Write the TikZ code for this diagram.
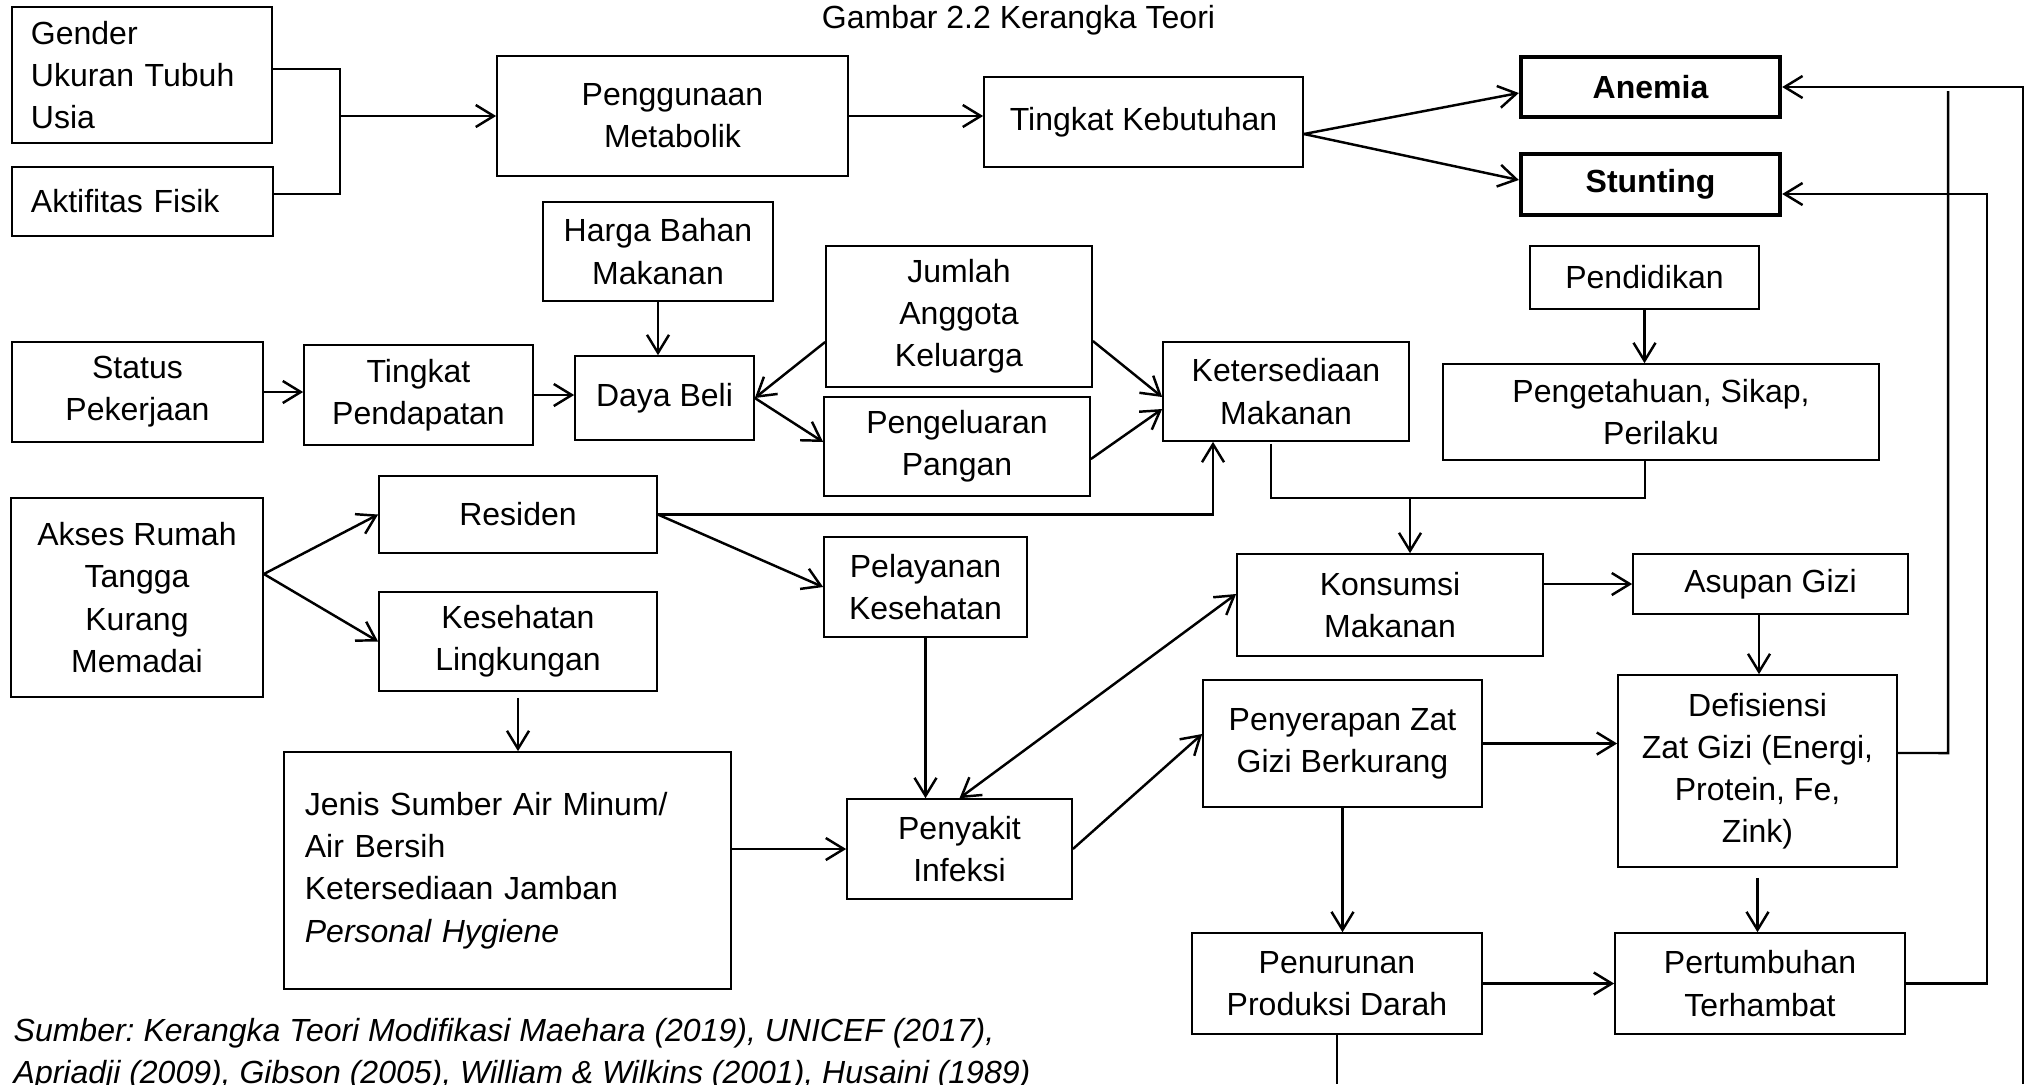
\documentclass[tikz,border=0pt]{standalone}
\usepackage{fontspec}
\setmainfont{Liberation Sans}
\usetikzlibrary{arrows.meta}
\frenchspacing
\begin{document}
\begin{tikzpicture}[x=0.01cm,y=-0.01cm,
  box/.style={draw, line width=0.45pt, inner sep=0pt, align=center, font=\fontsize{9.1}{12}\selectfont},
  bbox/.style={box, line width=1.2pt, font=\fontsize{9.1}{12}\selectfont\bfseries},
  lbox/.style={box, align=left},
  lbl/.style={inner sep=0pt, font=\fontsize{9.1}{12}\selectfont},
  ln/.style={line width=0.7pt},
  arr/.style={ln, -{Straight Barb[length=0.18cm,width=0.22cm]}},
  darr/.style={ln, {Straight Barb[length=0.18cm,width=0.22cm]}-{Straight Barb[length=0.18cm,width=0.22cm]}},
  ]
\useasboundingbox[fill=white] (0,0) rectangle (2028,1084);

\node[lbl] (title) at (1018.5,20) {Gambar 2.2 Kerangka Teori};

\node[lbox, minimum width=2.60cm, minimum height=1.36cm, text width=2.22cm, inner xsep=0.19cm] (gender) at (142,75) {Gender\\Ukuran Tubuh\\Usia};
\node[lbox, minimum width=2.61cm, minimum height=0.69cm, text width=2.23cm, inner xsep=0.19cm] (aktif) at (142.5,201.5) {Aktifitas Fisik};
\node[box, minimum width=3.51cm, minimum height=1.20cm] (peng) at (672.5,116) {Penggunaan\\Metabolik};
\node[box, minimum width=3.19cm, minimum height=0.90cm] (tkeb) at (1143.5,122) {Tingkat Kebutuhan};
\node[bbox, minimum width=2.59cm, minimum height=0.60cm] (anemia) at (1650.5,87) {Anemia};
\node[bbox, minimum width=2.59cm, minimum height=0.61cm] (stunting) at (1650.5,184.5) {Stunting};
\node[box, minimum width=2.30cm, minimum height=0.99cm] (harga) at (658,251.5) {Harga Bahan\\Makanan};
\node[box, minimum width=2.51cm, minimum height=1.00cm] (status) at (137.5,392) {Status\\Pekerjaan};
\node[box, minimum width=2.29cm, minimum height=1.00cm] (tpend) at (418.5,395) {Tingkat\\Pendapatan};
\node[box, minimum width=1.79cm, minimum height=0.84cm] (daya) at (664.5,398) {Daya Beli};
\node[box, minimum width=2.66cm, minimum height=1.41cm] (jumlah) at (959,316.5) {Jumlah\\Anggota\\Keluarga};
\node[box, minimum width=2.66cm, minimum height=0.99cm] (pengel) at (957,446.5) {Pengeluaran\\Pangan};
\node[box, minimum width=2.46cm, minimum height=0.99cm] (keters) at (1286,391.5) {Ketersediaan\\Makanan};
\node[box, minimum width=2.29cm, minimum height=0.63cm] (pendid) at (1644.5,277.5) {Pendidikan};
\node[box, minimum width=4.36cm, minimum height=0.96cm] (pengtah) at (1661,412) {Pengetahuan, Sikap,\\Perilaku};
\node[box, minimum width=2.52cm, minimum height=1.99cm] (akses) at (137,597.5) {Akses Rumah\\Tangga\\Kurang\\Memadai};
\node[box, minimum width=2.78cm, minimum height=0.77cm] (residen) at (518,514.5) {Residen};
\node[box, minimum width=2.78cm, minimum height=0.99cm] (kesling) at (518,641.5) {Kesehatan\\Lingkungan};
\node[lbox, minimum width=4.47cm, minimum height=2.37cm, text width=4.05cm, inner xsep=0.21cm] (jenis) at (507.5,870.5) {Jenis Sumber Air Minum/\\Air Bersih\\Ketersediaan Jamban\\\textit{Personal Hygiene}};
\node[box, minimum width=2.03cm, minimum height=1.00cm] (pelay) at (925.5,587) {Pelayanan\\Kesehatan};
\node[box, minimum width=2.25cm, minimum height=1.00cm] (penyakit) at (959.5,849) {Penyakit\\Infeksi};
\node[box, minimum width=3.06cm, minimum height=1.02cm] (konsumsi) at (1390,605) {Konsumsi\\Makanan};
\node[box, minimum width=2.75cm, minimum height=0.60cm] (asupan) at (1770.5,584) {Asupan Gizi};
\node[box, minimum width=2.79cm, minimum height=1.92cm] (defis) at (1757.5,771) {Defisiensi\\Zat Gizi (Energi,\\Protein, Fe,\\Zink)};
\node[box, minimum width=2.79cm, minimum height=1.27cm] (penyer) at (1342.5,743.5) {Penyerapan Zat\\Gizi Berkurang};
\node[box, minimum width=2.90cm, minimum height=1.01cm] (penurun) at (1337,983.5) {Penurunan\\Produksi Darah};
\node[box, minimum width=2.90cm, minimum height=1.01cm] (pertumb) at (1760,983.5) {Pertumbuhan\\Terhambat};

\node[lbl, anchor=west, font=\fontsize{9.1}{12}\selectfont\itshape] (src1) at (13,1033) {Sumber: Kerangka Teori Modifikasi Maehara (2019), UNICEF (2017),};
\node[lbl, anchor=west, font=\fontsize{9.1}{12}\selectfont\itshape] (src2) at (13,1075) {Apriadji (2009), Gibson (2005), William \& Wilkins (2001), Husaini (1989)};

% connectors
\coordinate (b1) at (340,69);
\coordinate (b2) at (340,194);
\coordinate (b3) at (340,116);
\draw[ln] (gender.east |- b1) -- (b1) -- (b2) -- (aktif.east |- b2);
\draw[arr] (b3) -- (b3 -| peng.west);
\draw[arr] (peng.east) -- (peng.east -| tkeb.west);
\draw[arr] ([yshift=-0.12cm]tkeb.east) -- ([yshift=-0.06cm]anemia.west);
\draw[arr] ([yshift=-0.12cm]tkeb.east) -- ([yshift=0.045cm]stunting.west);
\draw[arr] (harga.south) -- (harga.south |- daya.north);
\draw[arr] (status.east) -- (status.east -| tpend.west);
\draw[arr] (tpend.east) -- (tpend.east -| daya.west);
\draw[arr] ([yshift=-0.255cm]jumlah.west) -- (daya.east);
\draw[arr] (daya.east) -- ([yshift=0.045cm]pengel.west);
\draw[arr] ([yshift=-0.245cm]jumlah.east) -- ([yshift=-0.055cm]keters.west);
\draw[arr] ([yshift=-0.125cm]pengel.east) -- ([yshift=-0.175cm]keters.west);
\coordinate (kx) at (1213,517);
\draw[arr] (residen.east) -- (residen.east -| kx) -- (kx |- keters.south);
\draw[arr] (residen.east) -- (pelay.west);
\draw[arr] ([yshift=0.235cm]akses.east) -- (residen.west);
\draw[arr] ([yshift=0.235cm]akses.east) -- (kesling.west);
\draw[arr] ([yshift=-0.06cm]kesling.south) -- (kesling.south |- jenis.north);
\draw[arr] (penyakit.west -| jenis.east) -- (penyakit.west);
\draw[arr] (pelay.south) -- (pelay.south |- penyakit.north);
\draw[darr] (penyakit.north) -- ([yshift=0.11cm]konsumsi.west);
\draw[arr] (penyakit.east) -- ([yshift=0.095cm]penyer.west);
\coordinate (ja) at (1271,498);
\coordinate (jb) at (1645,498);
\coordinate (jn) at (1410,498);
\draw[ln] ([yshift=-0.02cm]ja |- keters.south) -- (ja) -- (jb) -- (jb |- pengtah.south);
\draw[arr] (jn) -- (jn |- konsumsi.north);
\draw[arr] (pendid.south) -- (pendid.south |- pengtah.north);
\draw[arr] (konsumsi.east |- asupan.west) -- (asupan.west);
\coordinate (ax) at (1759,614);
\draw[arr] (ax) -- (ax |- defis.north);
\draw[arr] (penyer.east) -- (penyer.east -| defis.west);
\draw[arr] (penyer.south) -- (penyer.south |- penurun.north);
\draw[arr] ([yshift=-0.1cm]defis.south) -- (defis.south |- pertumb.north);
\draw[arr] (penurun.east) -- (penurun.east -| pertumb.west);
\coordinate (dright) at (1948,753);
\coordinate (dtop) at (1948,91);
\draw[ln] ([yshift=0.18cm]defis.east) -- (dright) -- (dtop);
\coordinate (sx) at (1987,194);
\draw[arr] (pertumb.east) -- (pertumb.east -| sx) -- (sx) -- (sx -| stunting.east);
\coordinate (pbot) at (1337,1084);
\draw[ln] (penurun.south) -- (penurun.south |- pbot);
\coordinate (rbot) at (2023,1084);
\coordinate (rtop) at (2023,87);
\draw[arr] (rbot) -- (rtop) -- (rtop -| anemia.east);
\end{tikzpicture}
\end{document}
